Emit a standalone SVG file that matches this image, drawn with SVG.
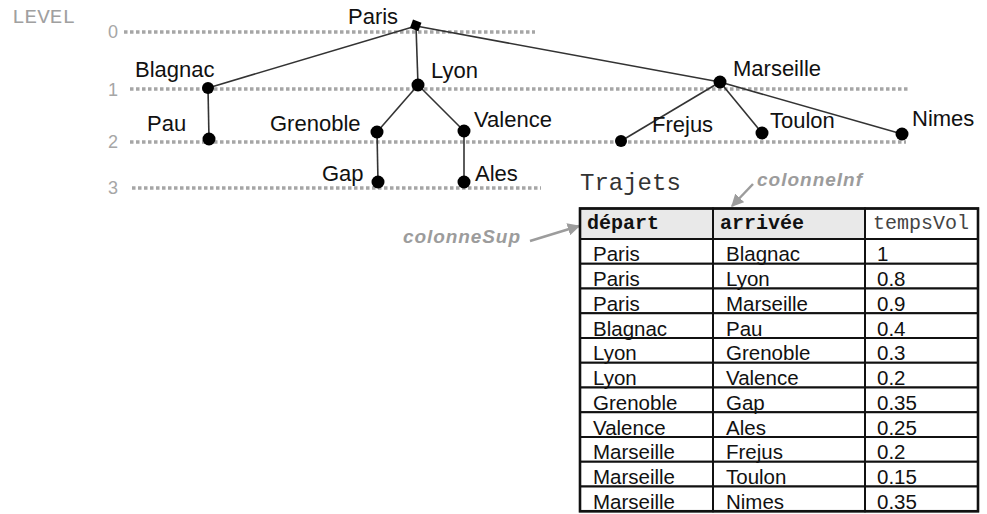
<svg xmlns="http://www.w3.org/2000/svg" width="987" height="514" viewBox="0 0 987 514">
<defs>
<style>
.lvl{stroke:#a6a6a6;stroke-width:3.5;stroke-dasharray:3.5 2.5;fill:none}
.lnum{font-family:"Liberation Sans",Arial,sans-serif;font-size:18px;fill:#a6a6a6}
.edge{stroke:#333;stroke-width:1.6;fill:none}
.node{fill:#000}
.lab{font-family:"Liberation Sans",Arial,sans-serif;font-size:22px;fill:#111}
.ann{font-family:"Liberation Sans",Arial,sans-serif;font-size:19px;font-weight:bold;font-style:italic;fill:#9c9c9c}
.aline{stroke:#9c9c9c;stroke-width:2.5;fill:none}
.cell{fill:#fff;stroke:#111;stroke-width:2}
.hcell{fill:#e9e9e9;stroke:#111;stroke-width:2}
.hd{font-family:"Liberation Mono","Courier New",monospace;font-size:20px;font-weight:bold;fill:#111}
.hd2{font-family:"Liberation Mono","Courier New",monospace;font-size:20px;fill:#444}
.td{font-family:"Liberation Sans",Arial,sans-serif;font-size:20.5px;fill:#111}
</style>
<marker id="arr" viewBox="0 0 10 10" refX="9" refY="5" markerWidth="5" markerHeight="5" orient="auto" markerUnits="strokeWidth">
<path d="M0,0 L10,5 L0,10 z" fill="#9c9c9c"/>
</marker>
</defs>
<rect width="987" height="514" fill="#fff"/>

<g id="levels">
<text x="12" y="23" font-family="'Liberation Mono','Courier New',monospace" font-size="21" fill="#a0a0a0">LEVEL</text>
<text class="lnum" x="108" y="38">0</text>
<text class="lnum" x="108" y="96">1</text>
<text class="lnum" x="108" y="148">2</text>
<text class="lnum" x="108" y="194">3</text>
<line class="lvl" x1="124" y1="32" x2="535" y2="32"/>
<line class="lvl" x1="130" y1="89" x2="908" y2="89"/>
<line class="lvl" x1="130" y1="142" x2="906" y2="142"/>
<line class="lvl" x1="132" y1="188" x2="541" y2="188"/>
</g>

<g id="connectors">
<line class="edge" x1="416" y1="26" x2="208" y2="88"/>
<line class="edge" x1="416" y1="26" x2="418" y2="85"/>
<line class="edge" x1="416" y1="26" x2="720" y2="82"/>
<line class="edge" x1="208" y1="88" x2="209" y2="139"/>
<line class="edge" x1="418" y1="85" x2="377" y2="132"/>
<line class="edge" x1="418" y1="85" x2="464" y2="131"/>
<line class="edge" x1="377" y1="132" x2="378" y2="182"/>
<line class="edge" x1="464" y1="131" x2="464" y2="182"/>
<line class="edge" x1="720" y1="82" x2="621" y2="141"/>
<line class="edge" x1="720" y1="82" x2="762" y2="133"/>
<line class="edge" x1="720" y1="82" x2="902" y2="134"/>
</g>

<g id="n-paris"><rect class="node" x="411" y="21" width="9" height="9" transform="rotate(20 416 26)"/><text class="lab" x="348" y="24">Paris</text></g>
<g id="n-blagnac"><circle class="node" cx="208" cy="88" r="6"/><text class="lab" x="135" y="77">Blagnac</text></g>
<g id="n-pau"><circle class="node" cx="209" cy="139" r="6.5"/><text class="lab" x="147" y="131">Pau</text></g>
<g id="n-lyon"><circle class="node" cx="418" cy="85" r="6.5"/><text class="lab" x="431" y="78">Lyon</text></g>
<g id="n-grenoble"><circle class="node" cx="377" cy="132" r="6.5"/><text class="lab" x="270" y="131">Grenoble</text></g>
<g id="n-valence"><circle class="node" cx="464" cy="131" r="6.5"/><text class="lab" x="474" y="127">Valence</text></g>
<g id="n-gap"><circle class="node" cx="378" cy="182" r="6.5"/><text class="lab" x="322" y="181">Gap</text></g>
<g id="n-ales"><circle class="node" cx="464" cy="182" r="6.5"/><text class="lab" x="475" y="181">Ales</text></g>
<g id="n-marseille"><circle class="node" cx="720" cy="82" r="6.5"/><text class="lab" x="733" y="76">Marseille</text></g>
<g id="n-frejus"><circle class="node" cx="621" cy="141" r="6"/><text class="lab" x="652" y="132">Frejus</text></g>
<g id="n-toulon"><circle class="node" cx="762" cy="133" r="6.5"/><text class="lab" x="770" y="128">Toulon</text></g>
<g id="n-nimes"><circle class="node" cx="902" cy="134" r="6.5"/><text class="lab" x="912" y="126">Nimes</text></g>

<g id="annotations">
<text x="580" y="190" font-family="'Liberation Mono','Courier New',monospace" font-size="24" fill="#333">Trajets</text>
<text class="ann" x="757" y="186" textLength="105">colonneInf</text>
<line class="aline" x1="753" y1="184" x2="732" y2="206" marker-end="url(#arr)"/>
<text class="ann" x="403" y="243" textLength="117">colonneSup</text>
<line class="aline" x1="530" y1="241" x2="579" y2="226" marker-end="url(#arr)"/>
</g>

<g id="table">
<rect x="580" y="208.5" width="133" height="30.5" class="hcell"/>
<rect x="713" y="208.5" width="152" height="30.5" class="hcell"/>
<rect x="865" y="208.5" width="113" height="30.5" fill="#fff" stroke="#111" stroke-width="2"/>
<text class="hd" x="587" y="229">départ</text>
<text class="hd" x="720" y="229">arrivée</text>
<text class="hd2" x="873" y="229">tempsVol</text>
<g id="rows">
<rect class="cell" x="580" y="239" width="133" height="24.75"/><rect class="cell" x="713" y="239" width="152" height="24.75"/><rect class="cell" x="865" y="239" width="113" height="24.75"/>
<rect class="cell" x="580" y="263.75" width="133" height="24.75"/><rect class="cell" x="713" y="263.75" width="152" height="24.75"/><rect class="cell" x="865" y="263.75" width="113" height="24.75"/>
<rect class="cell" x="580" y="288.5" width="133" height="24.75"/><rect class="cell" x="713" y="288.5" width="152" height="24.75"/><rect class="cell" x="865" y="288.5" width="113" height="24.75"/>
<rect class="cell" x="580" y="313.25" width="133" height="24.75"/><rect class="cell" x="713" y="313.25" width="152" height="24.75"/><rect class="cell" x="865" y="313.25" width="113" height="24.75"/>
<rect class="cell" x="580" y="338" width="133" height="24.75"/><rect class="cell" x="713" y="338" width="152" height="24.75"/><rect class="cell" x="865" y="338" width="113" height="24.75"/>
<rect class="cell" x="580" y="362.75" width="133" height="24.75"/><rect class="cell" x="713" y="362.75" width="152" height="24.75"/><rect class="cell" x="865" y="362.75" width="113" height="24.75"/>
<rect class="cell" x="580" y="387.5" width="133" height="24.75"/><rect class="cell" x="713" y="387.5" width="152" height="24.75"/><rect class="cell" x="865" y="387.5" width="113" height="24.75"/>
<rect class="cell" x="580" y="412.25" width="133" height="24.75"/><rect class="cell" x="713" y="412.25" width="152" height="24.75"/><rect class="cell" x="865" y="412.25" width="113" height="24.75"/>
<rect class="cell" x="580" y="437" width="133" height="24.75"/><rect class="cell" x="713" y="437" width="152" height="24.75"/><rect class="cell" x="865" y="437" width="113" height="24.75"/>
<rect class="cell" x="580" y="461.75" width="133" height="24.75"/><rect class="cell" x="713" y="461.75" width="152" height="24.75"/><rect class="cell" x="865" y="461.75" width="113" height="24.75"/>
<rect class="cell" x="580" y="486.5" width="133" height="24.75"/><rect class="cell" x="713" y="486.5" width="152" height="24.75"/><rect class="cell" x="865" y="486.5" width="113" height="24.75"/>
</g>
<rect x="580" y="208.5" width="398" height="302.75" fill="none" stroke="#111" stroke-width="2.6"/>
<g id="rowtext">
<text class="td" x="593" y="261">Paris</text><text class="td" x="726" y="261">Blagnac</text><text class="td" x="877" y="261">1</text>
<text class="td" x="593" y="286">Paris</text><text class="td" x="726" y="286">Lyon</text><text class="td" x="877" y="286">0.8</text>
<text class="td" x="593" y="310.5">Paris</text><text class="td" x="726" y="310.5">Marseille</text><text class="td" x="877" y="310.5">0.9</text>
<text class="td" x="593" y="335.5">Blagnac</text><text class="td" x="726" y="335.5">Pau</text><text class="td" x="877" y="335.5">0.4</text>
<text class="td" x="593" y="360">Lyon</text><text class="td" x="726" y="360">Grenoble</text><text class="td" x="877" y="360">0.3</text>
<text class="td" x="593" y="385">Lyon</text><text class="td" x="726" y="385">Valence</text><text class="td" x="877" y="385">0.2</text>
<text class="td" x="593" y="409.5">Grenoble</text><text class="td" x="726" y="409.5">Gap</text><text class="td" x="877" y="409.5">0.35</text>
<text class="td" x="593" y="434.5">Valence</text><text class="td" x="726" y="434.5">Ales</text><text class="td" x="877" y="434.5">0.25</text>
<text class="td" x="593" y="459">Marseille</text><text class="td" x="726" y="459">Frejus</text><text class="td" x="877" y="459">0.2</text>
<text class="td" x="593" y="484">Marseille</text><text class="td" x="726" y="484">Toulon</text><text class="td" x="877" y="484">0.15</text>
<text class="td" x="593" y="508.5">Marseille</text><text class="td" x="726" y="508.5">Nimes</text><text class="td" x="877" y="508.5">0.35</text>
</g>
</g>
</svg>
